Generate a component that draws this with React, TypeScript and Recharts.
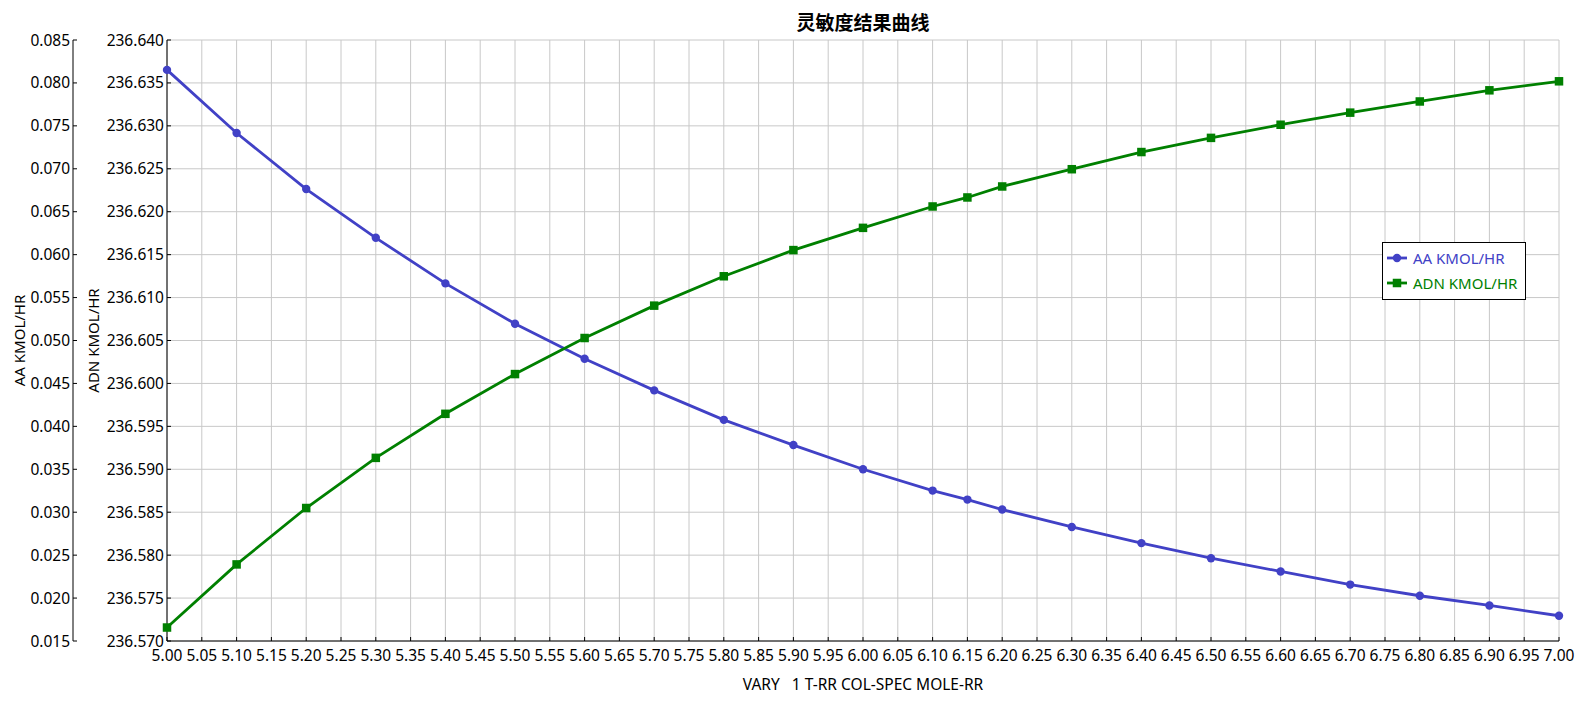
import React from 'react';
import { LineChart, Line, XAxis, YAxis, CartesianGrid, Legend } from 'recharts';

const xValues = [5.0, 5.1, 5.2, 5.3, 5.4, 5.5, 5.6, 5.7, 5.8, 5.9, 6.0, 6.1, 6.15, 6.2, 6.3, 6.4, 6.5, 6.6, 6.7, 6.8, 6.9, 7.0];
const aaValues = [0.08152, 0.07417, 0.06764, 0.06196, 0.05665, 0.05195, 0.04788, 0.04419, 0.04076, 0.03782, 0.0350, 0.03252, 0.03147, 0.03031, 0.02828, 0.0264, 0.02464, 0.0231, 0.02157, 0.02027, 0.01914, 0.01794];
const adnValues = [236.57157, 236.57892, 236.58549, 236.59133, 236.59646, 236.60109, 236.60529, 236.60906, 236.61248, 236.61553, 236.61812, 236.62061, 236.62166, 236.62294, 236.62495, 236.62695, 236.6286, 236.63013, 236.63154, 236.63284, 236.63414, 236.63519];

const xTicks = [5.0, 5.05, 5.1, 5.15, 5.2, 5.25, 5.3, 5.35, 5.4, 5.45, 5.5, 5.55, 5.6, 5.65, 5.7, 5.75, 5.8, 5.85, 5.9, 5.95, 6.0, 6.05, 6.1, 6.15, 6.2, 6.25, 6.3, 6.35, 6.4, 6.45, 6.5, 6.55, 6.6, 6.65, 6.7, 6.75, 6.8, 6.85, 6.9, 6.95, 7.0];
const aaTicks = [0.015, 0.02, 0.025, 0.03, 0.035, 0.04, 0.045, 0.05, 0.055, 0.06, 0.065, 0.07, 0.075, 0.08, 0.085];
const adnTicks = [236.57, 236.575, 236.58, 236.585, 236.59, 236.595, 236.6, 236.605, 236.61, 236.615, 236.62, 236.625, 236.63, 236.635, 236.64];

const title = '灵敏度结果曲线';
const xLabel = 'VARY   1 T-RR COL-SPEC MOLE-RR';
const aaLabel = 'AA KMOL/HR';
const adnLabel = 'ADN KMOL/HR';

const BLUE = '#4141c6';
const GREEN = '#008000';
const FONT = '"Noto Sans", "Open Sans", sans-serif';

// y1 = ADN axis (next to the plot), y2 = AA axis (outer)
const ADN_ID = 'y1';
const AA_ID = 'y2';

const data = xValues.map((x, i) => ({ x, aa: aaValues[i], adn: adnValues[i] }));

const CircleDot = (props: any) => {
  const { cx, cy, index } = props;
  if (cx == null || cy == null) return <g key={`c${index}`} />;
  return <circle key={`c${index}`} cx={cx} cy={cy} r={4.2} fill={BLUE} stroke="none" />;
};

const SquareDot = (props: any) => {
  const { cx, cy, index } = props;
  if (cx == null || cy == null) return <g key={`s${index}`} />;
  return <rect key={`s${index}`} x={cx - 4.25} y={cy - 4.25} width={8.5} height={8.5} fill={GREEN} stroke="none" />;
};

const renderLegend = () => (
  <svg width={144} height={58} style={{ display: 'block' }}>
    <rect x={0.5} y={0.5} width={143} height={57} fill="#fff" stroke="#000" strokeWidth={1} />
    <line x1={5} x2={25} y1={16} y2={16} stroke={BLUE} strokeWidth={2.8} />
    <circle cx={15} cy={16} r={4.2} fill={BLUE} />
    <text x={31} y={16} dominantBaseline="central" fontFamily={FONT} fontSize={15} fill={BLUE}>{aaLabel}</text>
    <line x1={5} x2={25} y1={41} y2={41} stroke={GREEN} strokeWidth={2.8} />
    <rect x={10.75} y={36.75} width={8.5} height={8.5} fill={GREEN} />
    <text x={31} y={41} dominantBaseline="central" fontFamily={FONT} fontSize={15} fill={GREEN}>{adnLabel}</text>
  </svg>
);

const yLabel = (text: string, dx: number) => (props: any) => {
  const vb = props.viewBox || {};
  const cx = vb.x + dx;
  const cy = vb.y + vb.height / 2;
  return (
    <text x={cx} y={cy} transform={`rotate(-90 ${cx} ${cy})`} textAnchor="middle" dominantBaseline="central" fontFamily={FONT} fontSize={15} fill="#000">
      {text}
    </text>
  );
};

const xLabelContent = (props: any) => {
  const vb = props.viewBox || {};
  const cx = vb.x + vb.width / 2;
  return (
    <text x={cx} y={vb.y + 43} textAnchor="middle" dominantBaseline="central" fontFamily={FONT} fontSize={15.5} fill="#000" style={{ whiteSpace: 'pre' }}>
      {xLabel}
    </text>
  );
};

const tickStyle = { fontFamily: FONT, fontSize: 15.5, fill: '#000' };

export default function App() {
  return (
    <div style={{ position: 'absolute', left: 0, top: 0, width: 1582, height: 702, background: '#fff' }}>
      <div
        style={{
          position: 'absolute', left: 663, top: 9, width: 400, textAlign: 'center',
          fontFamily: '"Noto Sans CJK SC", sans-serif', fontWeight: 'bold', fontSize: 19, lineHeight: '26px', color: '#000', zIndex: 2,
        }}
      >
        {title}
      </div>
      <LineChart width={1582} height={702} data={data} margin={{ top: 40, right: 23, bottom: 0, left: 0 }}>
        <CartesianGrid yAxisId={ADN_ID} stroke="#c8c8c8" strokeWidth={1} />
        <XAxis
          dataKey="x"
          type="number"
          domain={[5, 7]}
          ticks={xTicks}
          interval={0}
          height={61}
          tickFormatter={(v: number) => v.toFixed(2)}
          tick={tickStyle}
          tickSize={-4}
          tickMargin={13}
          stroke="#000"
          axisLine={{ stroke: '#000' }}
          tickLine={{ stroke: '#000' }}
          label={{ content: xLabelContent }}
        />
        <YAxis
          yAxisId={ADN_ID}
          orientation="left"
          width={94}
          domain={[236.57, 236.64]}
          ticks={adnTicks}
          interval={0}
          tickFormatter={(v: number) => v.toFixed(3)}
          tick={tickStyle}
          tickSize={-4}
          tickMargin={7}
          axisLine={{ stroke: '#000' }}
          tickLine={{ stroke: '#000' }}
          label={{ content: yLabel(adnLabel, 20) }}
        />
        <YAxis
          yAxisId={AA_ID}
          orientation="left"
          width={73}
          domain={[0.015, 0.085]}
          ticks={aaTicks}
          interval={0}
          tickFormatter={(v: number) => v.toFixed(3)}
          tick={tickStyle}
          tickSize={-4}
          tickMargin={7}
          axisLine={{ stroke: '#000' }}
          tickLine={{ stroke: '#000' }}
          label={{ content: yLabel(aaLabel, 19) }}
        />
        <Legend
          layout="vertical"
          align="center"
          verticalAlign="middle"
          content={renderLegend}
          wrapperStyle={{ position: 'absolute', left: 1382, top: 242, width: 144, height: 58 }}
        />
        <Line yAxisId={AA_ID} dataKey="aa" type="linear" stroke={BLUE} strokeWidth={2.8} dot={CircleDot} activeDot={false} isAnimationActive={false} />
        <Line yAxisId={ADN_ID} dataKey="adn" type="linear" stroke={GREEN} strokeWidth={2.8} dot={SquareDot} activeDot={false} isAnimationActive={false} />
      </LineChart>
    </div>
  );
}
